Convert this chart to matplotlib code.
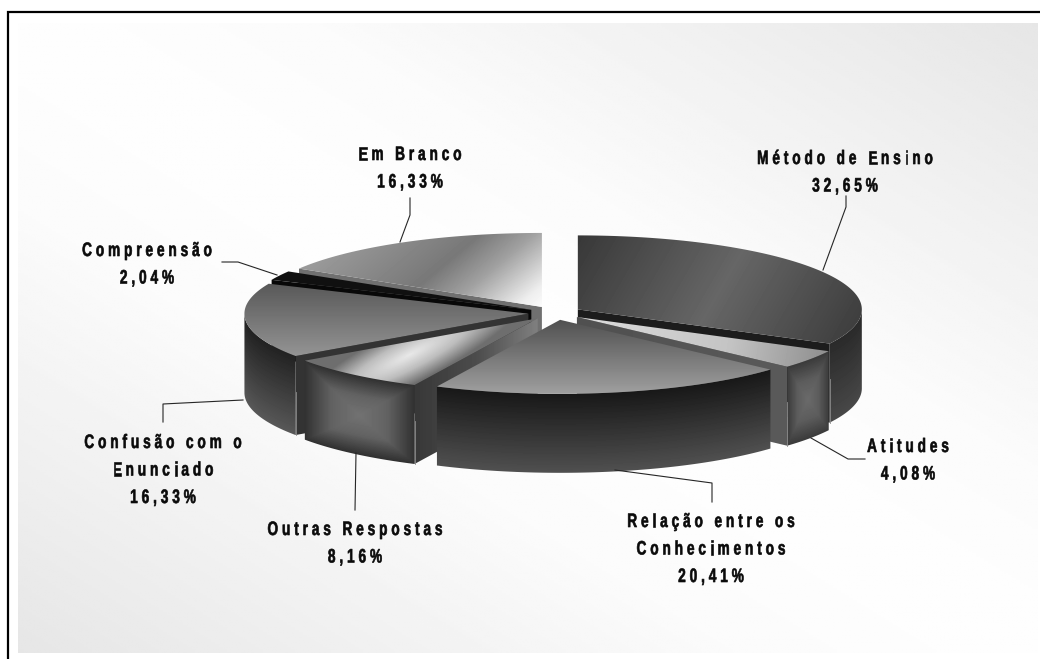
import numpy as np
import matplotlib
matplotlib.use('Agg')
import matplotlib.pyplot as plt
from matplotlib.patches import Polygon
from matplotlib.text import Text
from matplotlib.textpath import TextPath
from matplotlib.transforms import Affine2D

# Respostas por categoria, no sentido horario a partir das 12 horas
categorias = ['Método de Ensino', 'Atitudes', 'Relação entre os\nConhecimentos', 'Outras Respostas',
              'Confusão com o\nEnunciado', 'Compreensão', 'Em Branco']
percentuais = [32.65, 4.08, 20.41, 8.16, 16.33, 2.04, 16.33]

# Centro dos rotulos e linhas de chamada, em pixels
pos_rotulos = [(845, 157), (908, 445), (711, 520), (355, 528), (163, 441), (147, 249), (410, 153)]
chamadas = [
    [(823, 270), (846, 207), (846, 196)],
    [(811, 438), (848, 459), (865, 459)],
    [(615, 470), (712, 483), (712, 502)],
    [(356, 453), (355, 510)],
    [(243, 400), (163, 404), (163, 422)],
    [(277, 275), (238, 262), (222, 262)],
    [(400, 242), (410, 215), (410, 198)],
]

# Geometria da pizza
CX, CY = 555, 313
RX, RY = 284, 74
ALTURA = 79
EXPLODE = 0.094
ORDEM = [6, 5, 4, 0, 1, 3, 2]  # de tras para a frente

# Sombreamento de cada fatia: topo, parede externa, cortes radiais
estilos = [
    dict(topo=('lin', 30, [(0, 0x38), (.5, 0x66), (1, 0x3a)]),
         parede=('v', [(0, 0x2a), (1, 0x48)]),
         corte=('lin', 0, [(0, 0x1c), (1, 0x1c)])),
    dict(topo=('lin', 10, [(0, 0xdc), (.6, 0xc4), (1, 0x8c)]),
         parede=('box', [(0, 0x6a), (.5, 0x5c), (1, 0x3a)]),
         corte=('lin', 0, [(0, 0x50), (1, 0x5a)])),
    dict(topo=('lin', 90, [(0, 0x50), (1, 0xa0)]),
         parede=('v', [(0, 0x18), (1, 0x50)]),
         corte=('lin', 0, [(0, 0x40), (1, 0x40)])),
    dict(topo=('glow', 130, 28, -27, [(0, 0xe8), (.5, 0xbc), (1, 0x6e)]),
         parede=('box', [(0, 0x72), (.5, 0x62), (1, 0x30)]),
         corte=('lin', 0, [(0, 0x38), (.5, 0x4c), (1, 0x80)])),
    dict(topo=('lin', 90, [(0, 0x58), (1, 0x95)]),
         parede=('v', [(0, 0x22), (1, 0x58)]),
         corte=('lin', 0, [(0, 0x33), (1, 0x33)])),
    dict(topo=('lin', 0, [(0, 0x10), (1, 0x10)]),
         parede=('v', [(0, 0x10), (1, 0x18)]),
         corte=('lin', 0, [(0, 0x08), (1, 0x08)])),
    dict(topo=('lin', 50, [(0, 0xa0), (.17, 0x98), (.55, 0x78), (.71, 0xa0), (.92, 0xee), (1, 0xfc)]),
         parede=('v', [(0, 0x40), (1, 0x60)]),
         corte=('lin', 0, [(0, 0x70), (1, 0x70)])),
]


class TextoEspacado(Text):
    # Texto estreito com espacamento extra entre as letras, centrado em cada linha
    def __init__(self, *args, tracking=3.9, estreito=0.70, entrelinha=27.5, **kwargs):
        super().__init__(*args, **kwargs)
        self.tracking = tracking
        self.estreito = estreito
        self.entrelinha = entrelinha

    def draw(self, renderer):
        x, y = self.get_transform().transform(self.get_position())
        prop = self.get_fontproperties()
        px_size = prop.get_size_in_points() * self.get_figure().dpi / 72
        largura = lambda s: TextPath((0, 0), s, size=px_size, prop=prop).get_extents().width
        base = largura('xx')
        cor = matplotlib.colors.to_rgba(self.get_color())
        gc = renderer.new_gc()
        gc.set_linewidth(0.45)  # engrossa o traco das letras
        gc.set_foreground(cor)
        for i, linha in enumerate(self.get_text().split('\n')):
            avancos = [(largura('x' + c + 'x') - base) * self.estreito for c in linha]
            total = sum(avancos) + self.tracking * (len(linha) - 1)
            px = x - total / 2
            for c, av in zip(linha, avancos):
                if c != ' ':
                    glifo = TextPath((0, 0), c, size=px_size, prop=prop)
                    tr = Affine2D().scale(self.estreito, 1).translate(px, y - i * self.entrelinha - px_size * .36)
                    renderer.draw_path(gc, glifo, tr, cor)
                px += av + self.tracking
        gc.restore()


def direcao(theta):
    # theta em graus, horario a partir do topo; y cresce para baixo
    return np.sin(np.radians(theta)), -np.cos(np.radians(theta))


def tom(stops, t):
    return np.interp(t, [s[0] for s in stops], [s[1] for s in stops])


def pintar(ax, pts, spec, z, centro=None):
    pts = np.array(pts)
    x0, y0 = np.floor(pts.min(axis=0))
    x1, y1 = np.ceil(pts.max(axis=0))
    X, Y = np.meshgrid(np.arange(x0, x1 + 1) + .5, np.arange(y0, y1 + 1) + .5)
    u = (X - x0) / max(x1 - x0, 1)
    if spec[0] == 'lin':
        a = np.radians(spec[1])
        p = X * np.cos(a) + Y * np.sin(a)
        g = tom(spec[2], (p - p.min()) / max(p.max() - p.min(), 1))
    elif spec[0] == 'glow':
        a = np.radians(spec[3])
        dx, dy = X - (x0 + .45 * (x1 - x0)), Y - (y0 + .55 * (y1 - y0))
        d = np.hypot((dx * np.cos(a) + dy * np.sin(a)) / spec[1], (-dx * np.sin(a) + dy * np.cos(a)) / spec[2])
        g = tom(spec[4], np.clip(d, 0, 1))
    else:
        # parede externa: v acompanha a curva da borda
        cx, cy = centro
        arco = cy + RY * np.sqrt(np.clip(1 - ((X - cx) / RX) ** 2, 0, 1))
        v = np.clip((Y - arco) / ALTURA, 0, 1)
        if spec[0] == 'v':
            g = tom(spec[1], v)
        else:
            g = tom(spec[1], np.maximum(abs(2 * u - 1), abs(2 * v - 1)))
    im = ax.imshow(g, extent=(x0, x1 + 1, y1 + 1, y0), cmap='gray', vmin=0, vmax=255,
                   aspect='auto', interpolation='bilinear', zorder=z)
    im.set_clip_path(Polygon(pts, closed=True, transform=ax.transData))


fig = plt.figure(figsize=(10.4, 6.59), dpi=100)
ax = fig.add_axes([0, 0, 1, 1])
ax.axis('off')

# Fundo: claro na diagonal, cinza nos cantos superior direito e inferior esquerdo
BX0, BX1, BY0, BY1 = 18, 1038, 23, 653
X, Y = np.meshgrid(np.linspace(0, 1, 256), np.linspace(0, 1, 256))
fundo = np.interp(abs(X - Y), [0, .3, .6, 1], [254, 251, 242, 230])
ax.imshow(fundo, extent=(BX0, BX1, BY1, BY0), cmap='gray', vmin=0, vmax=255, aspect='auto', zorder=0)

# Moldura aberta: so esquerda e topo
ax.plot([8, 8, 1040], [659, 12, 12], color='black', lw=1.6, solid_capstyle='butt', solid_joinstyle='miter', zorder=1)

fronteiras = np.cumsum([0] + percentuais) / sum(percentuais) * 360
z = 2
for i in ORDEM:
    t0, t1 = fronteiras[i], fronteiras[i + 1]
    meio = (t0 + t1) / 2
    dx, dy = direcao(meio)
    cx = CX + EXPLODE * RX * dx
    cy = CY + EXPLODE * RY * dy
    est = estilos[i]
    rim = lambda th: (cx + RX * direcao(th)[0], cy + RY * direcao(th)[1])

    # Cortes radiais voltados para o observador
    for th, visivel in ((t0, np.sin(np.radians(t0)) < 0), (t1, np.sin(np.radians(t1)) > 0)):
        if visivel:
            xr, yr = rim(th)
            face = [(cx, cy), (xr, yr), (xr, yr + ALTURA), (cx, cy + ALTURA)]
            pintar(ax, face, est['corte'], z)
            z += 1

    # Parede externa, so a metade da frente
    a0, a1 = max(t0, 90), min(t1, 270)
    if a1 > a0:
        arco = [rim(th) for th in np.linspace(a0, a1, 80)]
        parede = arco + [(x, y + ALTURA) for x, y in arco[::-1]]
        pintar(ax, parede, est['parede'], z, centro=(cx, cy))
        z += 1
        # Filete claro no encontro da parede com o corte
        if np.sin(np.radians(t0)) < 0:
            xr, yr = rim(t0)
            ax.plot([xr, xr], [yr + ALTURA * .45, yr + ALTURA], color='#8c8c8c', lw=.6, zorder=z)
            z += 1
        elif np.sin(np.radians(t1)) > 0:
            xr, yr = rim(t1)
            ax.plot([xr, xr], [yr + ALTURA * .45, yr + ALTURA], color='#8c8c8c', lw=.6, zorder=z)
            z += 1

    # Topo da fatia
    topo = [(cx, cy)] + [rim(th) for th in np.linspace(t0, t1, 120)]
    pintar(ax, topo, est['topo'], z)
    z += 1

for pts in chamadas:
    xs, ys = zip(*pts)
    ax.plot(xs, ys, color='#262626', lw=.8, zorder=z)

for nome, valor, (x, y) in zip(categorias, percentuais, pos_rotulos):
    rotulo = nome + '\n' + f'{valor:.2f}'.replace('.', ',') + '%'
    t = TextoEspacado(x, y, rotulo, fontsize=14, fontweight='bold', color='#0a0a0a', family='Liberation Sans')
    ax.add_artist(t)

ax.set_xlim(0, 1040)
ax.set_ylim(659, 0)
fig.savefig('out.png', dpi=100, facecolor='white')
